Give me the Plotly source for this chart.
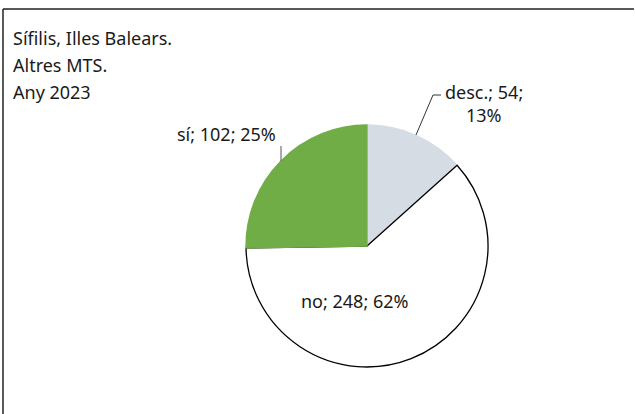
import plotly.graph_objects as go

categories = ["desc.", "no", "sí"]
values = [54, 248, 102]
pct_labels = [13, 62, 25]
colors = ["#D6DCE4", "#FFFFFF", "#70AD47"]
line_colors = ["#D6DCE4", "#000000", "#70AD47"]
title_lines = ["Sífilis, Illes Balears.", "Altres MTS.", "Any 2023"]

W, H = 635, 414
cx, cy, r = 367, 246, 121
labels = [f"{c}; {v}; {p}%" for c, v, p in zip(categories, values, pct_labels)]

fig = go.Figure(go.Pie(
    labels=categories, values=values, sort=False, direction="clockwise", rotation=0,
    marker=dict(colors=colors, line=dict(color=line_colors, width=1.3)),
    textinfo="none", hoverinfo="skip", showlegend=False,
    domain=dict(x=[(cx - r) / W, (cx + r) / W], y=[(H - cy - r) / H, (H - cy + r) / H]),
))

def px(x):
    return x / W

def py(y):
    return 1 - y / H

FAM = "Noto Sans, Open Sans, sans-serif"
font = dict(family=FAM, size=18, color="#1a1a1a")
ann = []
# title lines
for i, t in enumerate(title_lines):
    ann.append(dict(x=px(11), y=py(38 + 27 * i), xref="paper", yref="paper", xanchor="left",
                    yanchor="middle", text=t, showarrow=False, align="left", font=font))
# desc label (two lines)
ann.append(dict(x=px(484), y=py(92), xref="paper", yref="paper", xanchor="center", yanchor="middle",
                text=f"{categories[0]}; {values[0]};", showarrow=False, font=font))
ann.append(dict(x=px(484), y=py(115), xref="paper", yref="paper", xanchor="center", yanchor="middle",
                text=f"{pct_labels[0]}%", showarrow=False, font=font))
# no label
ann.append(dict(x=px(355), y=py(301), xref="paper", yref="paper", xanchor="center", yanchor="middle",
                text=labels[1], showarrow=False, font=font))
# sí label
ann.append(dict(x=px(226), y=py(134), xref="paper", yref="paper", xanchor="center", yanchor="middle",
                text=labels[2], showarrow=False, font=font))

shapes = [
    # frame (top and left edges visible in crop)
    dict(type="line", xref="paper", yref="paper", x0=px(3), x1=px(634), y0=py(9), y1=py(9),
         line=dict(color="#222222", width=1.5)),
    dict(type="line", xref="paper", yref="paper", x0=px(3), x1=px(3), y0=py(9), y1=py(420),
         line=dict(color="#222222", width=1.5)),
    # leader desc
    dict(type="path", xref="paper", yref="paper",
         path=f"M {px(416)},{py(135)} L {px(433)},{py(95)} L {px(441)},{py(95)}",
         line=dict(color="#333333", width=1)),
    # leader sí
    dict(type="line", xref="paper", yref="paper", x0=px(281), x1=px(281), y0=py(146), y1=py(161),
         line=dict(color="#555555", width=1)),
]

fig.update_layout(width=W, height=H, margin=dict(l=0, r=0, t=0, b=0),
                  paper_bgcolor="white", plot_bgcolor="white",
                  annotations=ann, shapes=shapes)
fig.write_html("out.html", config={"displayModeBar": False},
               post_script="document.body.style.margin='0';document.body.style.overflow='hidden';")
